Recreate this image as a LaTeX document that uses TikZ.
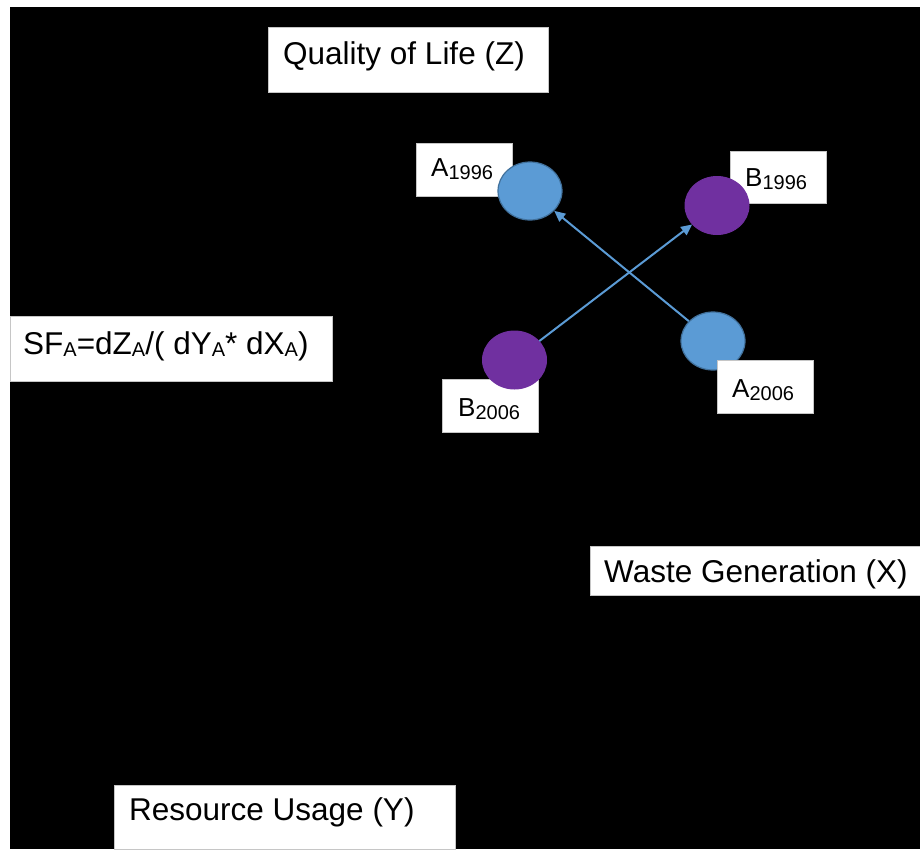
\documentclass[tikz,border=0pt]{standalone}
\usepackage{fontspec}
\setmainfont{Liberation Sans}
\usetikzlibrary{arrows.meta,shapes.geometric}

\definecolor{ptblue}{HTML}{5B9BD5}
\definecolor{ptblueedge}{HTML}{41719C}
\definecolor{ptpurple}{HTML}{7030A0}

% lowered, smaller index text
\newcommand\lowidx[2]{\raisebox{-#1}{\fontsize{20}{20}\selectfont #2}}

\tikzset{
  labelbox/.style={rectangle, fill=white, draw=gray!45, line width=0.6pt, inner sep=0pt, anchor=north west},
  biglabel/.style={inner sep=0pt, anchor=base west, font=\fontsize{31.5}{34}\selectfont},
  ptlabel/.style={inner sep=0pt, anchor=base west, font=\fontsize{26}{28}\selectfont},
  ptA/.style={ellipse, minimum width=64pt, minimum height=58pt, fill=ptblue, draw=ptblueedge, line width=1.2pt, inner sep=0pt},
  ptB/.style={ellipse, minimum width=64pt, minimum height=58pt, fill=ptpurple, draw=ptpurple, line width=1pt, inner sep=0pt},
  shift arrow/.style={draw=ptblue, line width=2pt, -{Triangle[length=11pt,width=10pt]}},
}

\begin{document}
\begin{tikzpicture}[x=1pt, y=-1pt]
  % canvas
  \path[fill=white] (0,0) rectangle (920,849);
  \useasboundingbox (0,0) rectangle (920,849);
  \path[fill=black] (10,7) rectangle (920,849);

  % axis titles
  \node[labelbox, minimum width=280pt, minimum height=65pt] (qbox) at (268,27) {};
  \node[biglabel] (qtext) at (283,64) {Quality of Life (Z)};

  \node[labelbox, minimum width=322pt, minimum height=65pt] (sfbox) at (10,316) {};
  \node[biglabel] (sftext) at (23,354)
    {SF\lowidx{2pt}{A}=dZ\lowidx{2pt}{A}/( dY\lowidx{2pt}{A}* dX\lowidx{2pt}{A})};

  \node[labelbox, minimum width=330pt, minimum height=49pt] (xbox) at (590,546) {};
  \node[biglabel] (xtext) at (604,582) {Waste Generation (X)};

  \node[labelbox, minimum width=341pt, minimum height=64pt] (ybox) at (114,785) {};
  \node[biglabel] (ytext) at (129,820) {Resource Usage (Y)};

  % point labels placed under the markers
  \node[labelbox, minimum width=96pt, minimum height=53pt] (a96box) at (416,143) {};
  \node[ptlabel] (a96text) at (431,176) {A\lowidx{3.5pt}{1996}};

  \node[labelbox, minimum width=96pt, minimum height=52pt] (b96box) at (730,151) {};
  \node[ptlabel] (b96text) at (745,186) {B\lowidx{3.5pt}{1996}};

  \node[labelbox, minimum width=96pt, minimum height=53pt] (b06box) at (442,379) {};
  \node[ptlabel] (b06text) at (458,416) {B\lowidx{3.5pt}{2006}};

  % markers
  \node[ptA] (a96) at (530,191) {};
  \node[ptB] (b96) at (717,205.5) {};
  \node[ptA] (a06) at (713,341) {};
  \node[ptB] (b06) at (514.5,360) {};

  % this label sits on top of its marker
  \node[labelbox, minimum width=96pt, minimum height=53pt] (a06box) at (717,360) {};
  \node[ptlabel] (a06text) at (732,397) {A\lowidx{3.5pt}{2006}};

  % shifts from 2006 to 1996
  \draw[shift arrow] (a06) -- (a96);
  \draw[shift arrow] (b06) -- (b96);
\end{tikzpicture}
\end{document}
